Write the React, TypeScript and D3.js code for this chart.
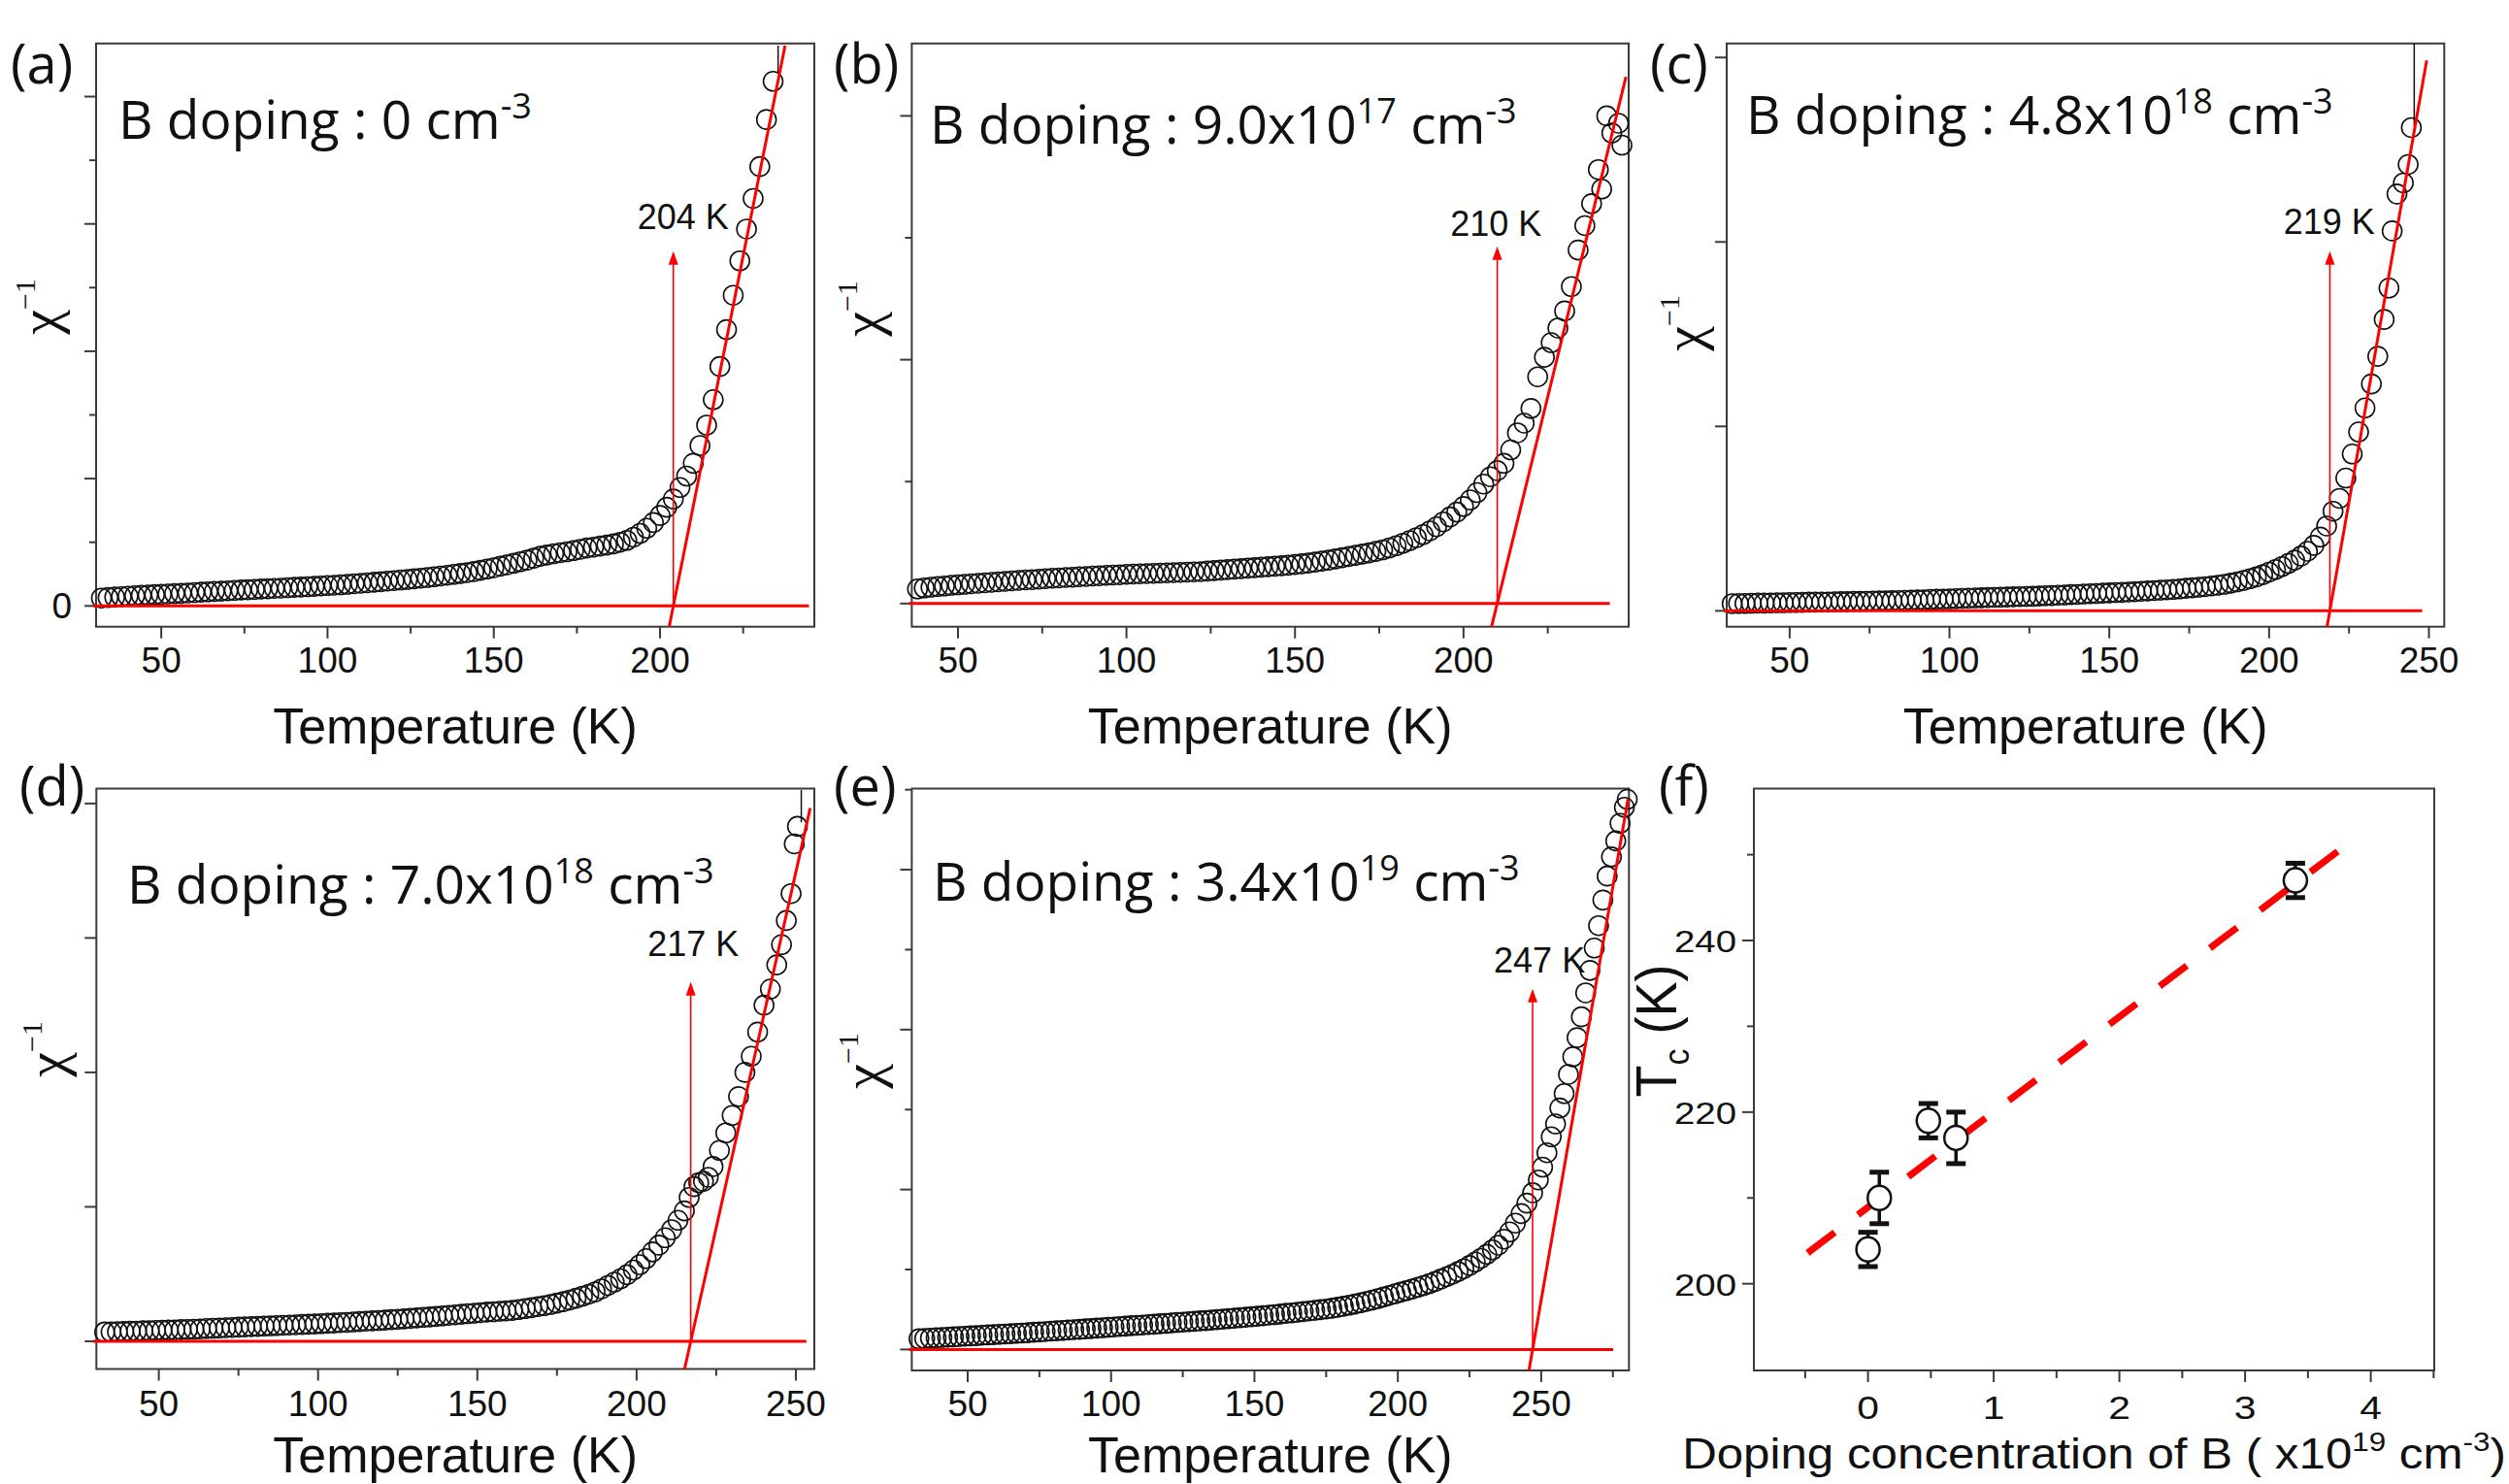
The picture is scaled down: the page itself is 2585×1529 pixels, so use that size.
import React from "react";
import * as d3 from "d3";

const W = 2585;
const H = 1529;
const RED = "#ff0000";
const AXIS = "#3a3a3a";
const INK = "#111111";
const SANS = "'Liberation Sans', Arial, sans-serif";
const CAL = "'Open Sans', 'Noto Sans', sans-serif";
const SERIF = "'Liberation Serif', 'DejaVu Serif', serif";

// ---------------- DATA ----------------
const panelLetters = ["(a)", "(b)", "(c)", "(d)", "(e)", "(f)"];
const dopingMantissa = ["0", "9.0x10", "4.8x10", "7.0x10", "3.4x10"];
const dopingExponent = ["", "17", "18", "18", "19"];
const tcValues = [204, 210, 219, 217, 247];
const tcErrors = [2, 3, 2, 3, 2];
const dopingConc = [0, 0.09, 0.48, 0.7, 3.4];
const tcLabels = ["204 K", "210 K", "219 K", "217 K", "247 K"];
const tcLabelT = [206.9, 209.6, 218.8, 217.8, 249.4];
const tcLabelU = [2.96, 1.509, 2.042, 2.863, 2.357];
const arrowTopU = [2.787, 1.465, 1.95, 2.673, 2.255];
const fitTop: [number, number][] = [[237.6, 4.4], [248.2, 2.16], [249.3, 2.984], [254.5, 3.966], [280.3, 3.443]];
const baselineEnd = [244.8, 243.4, 247.9, 253.3, 275.1];
const tails: ([number, number, number] | null)[] = [[235.5, 4.19, 4.4], null, [245.4, 2.63, 3.076], [251.7, 3.86, 4.1], null];
const xDomains: [number, number][] = [[30.4, 246.4], [36.3, 249], [30.3, 254.8], [30.4, 255.8], [30.5, 280.6]];
const yDomains: [number, number][] = [[-0.163, 4.417], [-0.095, 2.297], [-0.086, 3.076], [-0.206, 4.111], [-0.131, 3.507]];
const tempTickLabels = [50, 100, 150, 200, 250];
const yTickSets = [
  [0, 0.5, 1, 1.5, 2, 2.5, 3, 3.5, 4],
  [0, 0.5, 1, 1.5, 2],
  [0, 1, 2, 3],
  [0, 1, 2, 3, 4],
  [0, 0.5, 1, 1.5, 2, 2.5, 3, 3.5],
];
const fXTicks = [0, 1, 2, 3, 4];
const fXMinor = [-0.5, 0.5, 1.5, 2.5, 3.5, 4.5];
const fYTicks = [200, 220, 240];
const fYMinor = [210, 230, 250];
const fFit: [number, number][] = [[-0.48, 203.6], [3.756, 250.6]];

const seriesA: [number, number][] = [
  [32, .062], [34, .066], [36, .070], [38, .073], [40, .077], [42, .080], [44, .083], [46, .086], [48, .089], [50, .091],
  [52, .094], [54, .097], [56, .099], [58, .102], [60, .105], [62, .108], [64, .111], [66, .114], [68, .116], [70, .119],
  [72, .122], [74, .125], [76, .127], [78, .130], [80, .133], [82, .135], [84, .138], [86, .140], [88, .143], [90, .146],
  [92, .148], [94, .151], [96, .154], [98, .157], [100, .160], [102, .163], [104, .166], [106, .170], [108, .174], [110, .178],
  [112, .182], [114, .186], [116, .190], [118, .195], [120, .199], [122, .204], [124, .208], [126, .213], [128, .218], [130, .223],
  [132, .229], [134, .235], [136, .241], [138, .248], [140, .255], [142, .262], [144, .270], [146, .280], [148, .290], [150, .300],
  [152, .312], [154, .323], [156, .335], [158, .347], [160, .360], [162, .375], [164, .390], [166, .400], [168, .410], [170, .418],
  [172, .425], [174, .435], [176, .445], [178, .455], [180, .462], [182, .470], [184, .478], [186, .487], [188, .500], [190, .515],
  [192, .540], [194, .570], [196, .610], [198, .655], [200, .710], [202, .775], [204, .840], [206, .930], [208, 1.02], [210, 1.12],
  [212, 1.26], [214, 1.42], [216, 1.62], [218, 1.88], [220, 2.17], [222, 2.44], [224, 2.71], [226, 2.96], [228, 3.20], [230, 3.45],
  [232, 3.82], [234, 4.12],
];
const seriesB: [number, number][] = [
  [38, .060], [40, .064], [42, .067], [44, .070], [46, .072], [48, .075], [50, .077], [52, .079], [54, .081], [56, .083],
  [58, .085], [60, .087], [62, .089], [64, .091], [66, .093], [68, .095], [70, .097], [72, .098], [74, .100], [76, .102],
  [78, .104], [80, .105], [82, .107], [84, .108], [86, .110], [88, .111], [90, .113], [92, .114], [94, .116], [96, .117],
  [98, .118], [100, .120], [102, .121], [104, .122], [106, .123], [108, .124], [110, .125], [112, .126], [114, .127], [116, .128],
  [118, .129], [120, .130], [122, .131], [124, .133], [126, .135], [128, .137], [130, .139], [132, .141], [134, .143], [136, .145],
  [138, .147], [140, .149], [142, .151], [144, .153], [146, .155], [148, .157], [150, .160], [152, .163], [154, .166], [156, .170],
  [158, .174], [160, .178], [162, .183], [164, .188], [166, .193], [168, .198], [170, .203], [172, .208], [174, .214], [176, .220],
  [178, .228], [180, .237], [182, .247], [184, .258], [186, .270], [188, .283], [190, .298], [192, .315], [194, .335], [196, .355],
  [198, .375], [200, .398], [202, .425], [204, .455], [206, .490], [208, .520], [210, .545], [212, .575], [214, .630], [216, .700],
  [218, .740], [220, .800], [222, .930], [224, 1.01], [226, 1.07], [228, 1.13], [230, 1.20], [232, 1.30], [234, 1.45], [236, 1.55],
  [238, 1.64], [240, 1.78], [241, 1.70], [242.5, 2.00], [244, 1.93], [246, 1.97], [247, 1.88],
];
const seriesC: [number, number][] = [
  [32, .039], [34, .040], [36, .040], [38, .041], [40, .042], [42, .042], [44, .043], [46, .044], [48, .044], [50, .045],
  [52, .045], [54, .046], [56, .047], [58, .047], [60, .048], [62, .048], [64, .049], [66, .050], [68, .050], [70, .051],
  [72, .051], [74, .052], [76, .053], [78, .054], [80, .054], [82, .055], [84, .056], [86, .057], [88, .058], [90, .059],
  [92, .060], [94, .062], [96, .063], [98, .064], [100, .065], [102, .066], [104, .068], [106, .069], [108, .070], [110, .071],
  [112, .072], [114, .073], [116, .074], [118, .075], [120, .076], [122, .077], [124, .078], [126, .079], [128, .080], [130, .082],
  [132, .083], [134, .085], [136, .086], [138, .088], [140, .089], [142, .091], [144, .093], [146, .094], [148, .096], [150, .097],
  [152, .099], [154, .100], [156, .102], [158, .104], [160, .106], [162, .108], [164, .110], [166, .112], [168, .114], [170, .116],
  [172, .119], [174, .122], [176, .125], [178, .128], [180, .131], [182, .135], [184, .139], [186, .144], [188, .150], [190, .157],
  [192, .165], [194, .174], [196, .184], [198, .196], [200, .210], [202, .224], [204, .240], [206, .257], [208, .275], [210, .297],
  [212, .323], [214, .355], [216, .400], [218, .460], [220, .540], [222, .610], [224, .720], [226, .850], [228, .970], [230, 1.10],
  [232, 1.23], [234, 1.38], [236, 1.58], [237.5, 1.75], [238.5, 2.06], [240, 2.26], [242, 2.32], [243.5, 2.42], [244.5, 2.62],
];
const seriesD: [number, number][] = [
  [33, .069], [35, .070], [37, .072], [39, .073], [41, .075], [43, .076], [45, .078], [47, .079], [49, .081], [51, .082],
  [53, .084], [55, .085], [57, .087], [59, .088], [61, .090], [63, .092], [65, .095], [67, .097], [69, .099], [71, .101],
  [73, .103], [75, .105], [77, .107], [79, .109], [81, .111], [83, .113], [85, .115], [87, .117], [89, .119], [91, .121],
  [93, .123], [95, .125], [97, .127], [99, .129], [101, .131], [103, .134], [105, .136], [107, .139], [109, .141], [111, .144],
  [113, .147], [115, .150], [117, .152], [119, .155], [121, .158], [123, .161], [125, .164], [127, .167], [129, .170], [131, .174],
  [133, .178], [135, .181], [137, .185], [139, .189], [141, .193], [143, .197], [145, .201], [147, .205], [149, .209], [151, .213],
  [153, .217], [155, .220], [157, .223], [159, .226], [161, .230], [163, .236], [165, .243], [167, .250], [169, .258], [171, .265],
  [173, .274], [175, .284], [177, .295], [179, .307], [181, .320], [183, .335], [185, .350], [187, .368], [189, .390], [191, .415],
  [193, .440], [195, .465], [197, .495], [199, .530], [201, .570], [203, .615], [205, .665], [207, .715], [209, .770], [211, .830],
  [213, .900], [215, .970], [216.5, 1.07], [218, 1.15], [219.5, 1.18], [221, 1.19], [222.5, 1.22], [224, 1.30], [226, 1.42], [228, 1.55],
  [230, 1.68], [232, 1.82], [234, 2.00], [236, 2.12], [238, 2.30], [240, 2.50], [242, 2.62], [244, 2.80], [245.5, 2.95], [247, 3.13],
  [248.5, 3.33], [249.5, 3.70], [250.5, 3.83],
];
const seriesE: [number, number][] = [
  [33, .067], [35, .069], [37, .071], [39, .073], [41, .075], [43, .077], [45, .079], [47, .081], [49, .083], [51, .085],
  [53, .087], [55, .089], [57, .091], [59, .093], [61, .095], [63, .097], [65, .099], [67, .101], [69, .103], [71, .105],
  [73, .108], [75, .110], [77, .112], [79, .115], [81, .117], [83, .119], [85, .122], [87, .124], [89, .126], [91, .129],
  [93, .131], [95, .134], [97, .136], [99, .139], [101, .141], [103, .144], [105, .146], [107, .149], [109, .151], [111, .153],
  [113, .156], [115, .158], [117, .161], [119, .163], [121, .166], [123, .169], [125, .171], [127, .174], [129, .176], [131, .179],
  [133, .181], [135, .184], [137, .187], [139, .190], [141, .193], [143, .196], [145, .199], [147, .202], [149, .205], [151, .208],
  [153, .211], [155, .215], [157, .218], [159, .222], [161, .226], [163, .229], [165, .233], [167, .237], [169, .241], [171, .245],
  [173, .249], [175, .253], [177, .258], [179, .264], [181, .270], [183, .277], [185, .284], [187, .292], [189, .300], [191, .309],
  [193, .318], [195, .328], [197, .338], [199, .348], [201, .358], [203, .368], [205, .378], [207, .389], [209, .400], [211, .412],
  [213, .425], [215, .440], [217, .455], [219, .470], [221, .487], [223, .505], [225, .525], [227, .547], [229, .570], [231, .595],
  [233, .623], [235, .652], [237, .690], [239, .735], [241, .790], [243, .850], [245, .915], [247, .980], [249, 1.06], [250.5, 1.14],
  [252, 1.23], [253.5, 1.33], [255, 1.41], [256.5, 1.51], [258, 1.60], [259.5, 1.72], [261, 1.83], [262.5, 1.95], [264, 2.08], [265.5, 2.23],
  [267, 2.37], [268.5, 2.51], [270, 2.65], [271.5, 2.81], [273, 2.96], [274.5, 3.08], [276, 3.18], [277.5, 3.29], [279, 3.39], [280, 3.44],
];
const chiSeries = [seriesA, seriesB, seriesC, seriesD, seriesE];

// ---------------- LAYOUT ----------------
type Frame = { x0: number; x1: number; y0: number; y1: number };
const chiFrames: Frame[] = [
  { x0: 99, x1: 839, y0: 44.8, y1: 645.7 },
  { x0: 939.4, x1: 1678, y0: 44.8, y1: 645.7 },
  { x0: 1779, x1: 2518.3, y0: 44.8, y1: 645.7 },
  { x0: 99.3, x1: 839, y0: 812.5, y1: 1410.5 },
  { x0: 939.4, x1: 1678.3, y0: 812.5, y1: 1412 },
];
const tcFrame: Frame = { x0: 1807, x1: 2508, y0: 812.5, y1: 1412 };
const letterPos: [number, number][] = [[11, 86], [859, 86], [1700, 86], [20, 830], [859, 830], [1709, 830]];
const dopingPos: [number, number][] = [[122, 143], [958, 148], [1799, 138], [131, 931], [961, 928]];
const chiLabelPos: [number, number][] = [[60, 316], [907, 318], [1754, 333], [67, 1081], [908, 1093]];
const tickBaseline = [693, 693, 693, 1459, 1459];
const titleBaseline = [766, 766, 766, 1517, 1517];

function ChiPanel({ i }: { i: number }) {
  const f = chiFrames[i];
  const [dx0, dx1] = xDomains[i];
  const x = d3.scaleLinear().domain(xDomains[i]).range([f.x0, f.x1]);
  const y = d3.scaleLinear().domain(yDomains[i]).range([f.y1, f.y0]);
  const data = chiSeries[i];
  const tc = tcValues[i];
  const [tT, tU] = fitTop[i];
  const slope = tU / (tT - tc);
  const uBottom = yDomains[i][0];
  const tBottom = tc + uBottom / slope;
  const majorX = tempTickLabels.filter((v) => v >= dx0 && v <= dx1);
  const minorX = d3.range(25, 300, 50).filter((v) => v >= dx0 && v <= dx1);
  const ax = x(tc);
  const aTop = y(arrowTopU[i]);
  const tail = tails[i];
  const fitLine = d3.line<[number, number]>().x((d) => x(d[0])).y((d) => y(d[1]));
  return (
    <g>
      <rect x={f.x0} y={f.y0} width={f.x1 - f.x0} height={f.y1 - f.y0} fill="none" stroke={AXIS} strokeWidth={2} />
      {majorX.map((v) => (
        <line key={"mx" + v} x1={x(v)} x2={x(v)} y1={f.y1} y2={f.y1 + 12} stroke={AXIS} strokeWidth={2} />
      ))}
      {minorX.map((v) => (
        <line key={"nx" + v} x1={x(v)} x2={x(v)} y1={f.y1} y2={f.y1 + 7} stroke={AXIS} strokeWidth={2} />
      ))}
      {yTickSets[i].map((v) => (
        <line key={"y" + v} x1={f.x0} x2={f.x0 - (Number.isInteger(v) ? 12 : 7)} y1={y(v)} y2={y(v)} stroke={AXIS} strokeWidth={2} />
      ))}
      {majorX.map((v) => (
        <text key={"lx" + v} x={x(v)} y={tickBaseline[i]} textAnchor="middle" fontFamily={SANS} fontSize={37} fill={INK}>
          {v}
        </text>
      ))}
      {i === 0 && (
        <text x={f.x0 - 25} y={y(0) + 13} textAnchor="end" fontFamily={SANS} fontSize={37} fill={INK}>
          0
        </text>
      )}
      {data.map((d, k) => (
        <circle key={k} cx={x(d[0])} cy={y(d[1])} r={10} fill="none" stroke={INK} strokeWidth={1.6} />
      ))}
      {tail && <line x1={x(tail[0])} x2={x(tail[0])} y1={y(tail[1])} y2={y(tail[2])} stroke={INK} strokeWidth={1.5} />}
      <line x1={f.x0 - 3} x2={x(baselineEnd[i])} y1={y(0)} y2={y(0)} stroke={RED} strokeWidth={3} />
      <path d={fitLine([[tBottom, uBottom], [tT, tU]]) || ""} stroke={RED} strokeWidth={3} fill="none" />
      <line x1={ax} x2={ax} y1={y(0)} y2={aTop + 10} stroke={RED} strokeWidth={1.6} />
      <path d={`M${ax - 5},${aTop + 14}L${ax + 5},${aTop + 14}L${ax},${aTop}Z`} fill={RED} />
      <text x={x(tcLabelT[i])} y={y(tcLabelU[i])} textAnchor="middle" fontFamily={SANS} fontSize={36} fill={INK}>
        {tcLabels[i]}
      </text>
      <text x={dopingPos[i][0]} y={dopingPos[i][1]} fontFamily={CAL} fontSize={55} fill={INK} style={{ whiteSpace: "pre" }}>
        {"B doping : " + dopingMantissa[i]}
        {dopingExponent[i] ? (
          <tspan dy={-21} fontSize={36}>
            {dopingExponent[i]}
          </tspan>
        ) : null}
        <tspan dy={dopingExponent[i] ? 21 : 0}>{" cm"}</tspan>
        <tspan dy={-21} fontSize={36}>
          -3
        </tspan>
      </text>
      <text x={(f.x0 + f.x1) / 2} y={titleBaseline[i]} textAnchor="middle" fontFamily={SANS} fontSize={52} fill={INK}>
        Temperature (K)
      </text>
      <text
        transform={`translate(${chiLabelPos[i][0]},${chiLabelPos[i][1]}) rotate(-90)`}
        textAnchor="middle"
        fontFamily={SERIF}
        fontSize={58}
        fill={INK}
      >
        χ
        <tspan dy={-24} fontSize={30}>
          −1
        </tspan>
      </text>
    </g>
  );
}

function TcPanel() {
  const f = tcFrame;
  const x = d3.scaleLinear().domain([-0.908, 4.505]).range([f.x0, f.x1]);
  const y = d3.scaleLinear().domain([189.9, 257.7]).range([f.y1, f.y0]);
  const fit = d3.line<[number, number]>().x((d) => x(d[0])).y((d) => y(d[1]));
  const SX = 1.2;
  return (
    <g>
      <rect x={f.x0} y={f.y0} width={f.x1 - f.x0} height={f.y1 - f.y0} fill="none" stroke={AXIS} strokeWidth={2} />
      {fXTicks.map((v) => (
        <line key={"fx" + v} x1={x(v)} x2={x(v)} y1={f.y1} y2={f.y1 + 12} stroke={AXIS} strokeWidth={2} />
      ))}
      {fXMinor.map((v) => (
        <line key={"fxm" + v} x1={x(v)} x2={x(v)} y1={f.y1} y2={f.y1 + 8} stroke={AXIS} strokeWidth={2} />
      ))}
      {fYTicks.map((v) => (
        <line key={"fy" + v} x1={f.x0} x2={f.x0 - 12} y1={y(v)} y2={y(v)} stroke={AXIS} strokeWidth={2} />
      ))}
      {fYMinor.map((v) => (
        <line key={"fym" + v} x1={f.x0} x2={f.x0 - 7} y1={y(v)} y2={y(v)} stroke={AXIS} strokeWidth={2} />
      ))}
      {fXTicks.map((v) => (
        <text
          key={"fxl" + v}
          transform={`translate(${x(v)},${f.y1 + 50}) scale(${SX},1)`}
          textAnchor="middle"
          fontFamily={SANS}
          fontSize={34}
          fill={INK}
        >
          {v}
        </text>
      ))}
      {fYTicks.map((v) => (
        <text
          key={"fyl" + v}
          transform={`translate(${f.x0 - 18},${y(v) + 12}) scale(${SX},1)`}
          textAnchor="end"
          fontFamily={SANS}
          fontSize={32}
          fill={INK}
        >
          {v}
        </text>
      ))}
      <path d={fit(fFit) || ""} stroke={RED} strokeWidth={7} strokeDasharray="35 30" fill="none" />
      {dopingConc.map((c, k) => {
        const cx = x(c);
        const lo = y(tcValues[k] - tcErrors[k]);
        const hi = y(tcValues[k] + tcErrors[k]);
        return (
          <g key={k}>
            <line x1={cx} x2={cx} y1={lo} y2={hi} stroke={INK} strokeWidth={3.5} />
            <line x1={cx - 10} x2={cx + 10} y1={lo} y2={lo} stroke={INK} strokeWidth={5} />
            <line x1={cx - 10} x2={cx + 10} y1={hi} y2={hi} stroke={INK} strokeWidth={5} />
            <ellipse cx={cx} cy={y(tcValues[k])} rx={12} ry={12.5} fill="#fff" stroke={INK} strokeWidth={2.5} />
          </g>
        );
      })}
      <text
        transform={`translate(1727,1062) scale(1.1,1) rotate(-90)`}
        textAnchor="middle"
        fontFamily={SANS}
        fontSize={54}
        fill={INK}
        style={{ whiteSpace: "pre" }}
      >
        T
        <tspan dy={12} fontSize={34}>
          c
        </tspan>
        <tspan dy={-12}>{" (K)"}</tspan>
      </text>
      <text
        transform={`translate(${(f.x0 + f.x1) / 2},1513) scale(1.12,1)`}
        textAnchor="middle"
        fontFamily={SANS}
        fontSize={44}
        fill={INK}
        style={{ whiteSpace: "pre" }}
      >
        {"Doping concentration of B ( x10"}
        <tspan dy={-18} fontSize={28}>
          19
        </tspan>
        <tspan dy={18}>{" cm"}</tspan>
        <tspan dy={-18} fontSize={28}>
          -3
        </tspan>
        <tspan dy={18}>)</tspan>
      </text>
    </g>
  );
}

export default function App() {
  return (
    <div style={{ position: "absolute", left: 0, top: 0, width: W, height: H, overflow: "hidden", background: "#fff" }}>
      <svg width={W} height={H} viewBox={`0 0 ${W} ${H}`} style={{ display: "block" }}>
        <rect width={W} height={H} fill="#fff" />
        {[0, 1, 2, 3, 4].map((i) => (
          <ChiPanel key={i} i={i} />
        ))}
        <TcPanel />
        {panelLetters.map((t, k) => (
          <text key={t} x={letterPos[k][0]} y={letterPos[k][1]} fontFamily={CAL} fontSize={56} fill={INK}>
            {t}
          </text>
        ))}
      </svg>
    </div>
  );
}
